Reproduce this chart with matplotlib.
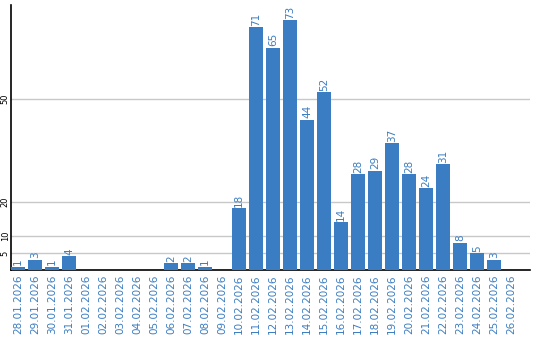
import matplotlib
matplotlib.use("Agg")
import matplotlib.pyplot as plt
import numpy as np

dates = ["28.01.2026", "29.01.2026", "30.01.2026", "31.01.2026", "01.02.2026",
         "02.02.2026", "03.02.2026", "04.02.2026", "05.02.2026", "06.02.2026",
         "07.02.2026", "08.02.2026", "09.02.2026", "10.02.2026", "11.02.2026",
         "12.02.2026", "13.02.2026", "14.02.2026", "15.02.2026", "16.02.2026",
         "17.02.2026", "18.02.2026", "19.02.2026", "20.02.2026", "21.02.2026",
         "22.02.2026", "23.02.2026", "24.02.2026", "25.02.2026", "26.02.2026"]
values = [1, 3, 1, 4, 0, 0, 0, 0, 0, 2, 2, 1, 0, 18, 71, 65, 73, 44, 52, 14,
          28, 29, 37, 28, 24, 31, 8, 5, 3, 0]
yticks = [5, 10, 20, 50]

blue = "#3b7dc2"
W, H = 540, 340
fig = plt.figure(figsize=(W / 100, H / 100), dpi=100)
ax = fig.add_axes([11 / W, 70 / H, 519 / W, 265 / H])

x = np.arange(len(dates))
ax.bar(x, values, width=0.82, color=blue, zorder=3)
for xi, v in zip(x, values):
    if v > 0:
        ax.text(xi, v + 0.4, str(v), rotation=90, ha="center", va="bottom",
                color=blue, fontsize=7.5, zorder=4)

ax.set_xlim(-0.41, 30.12)
ax.set_ylim(0, 77.5)
ax.set_yticks(yticks)
ax.set_yticklabels([str(t) for t in yticks], rotation=90, va="center",
                   fontsize=6)
ax.tick_params(axis="y", length=0, pad=1)
ax.grid(axis="y", color="#c8c8c8", linewidth=1, zorder=0)
ax.set_xticks(x)
ax.set_xticklabels(dates, rotation=90, fontsize=7.5, color=blue)
ax.tick_params(axis="x", length=0, pad=3)
for s in ["top", "right"]:
    ax.spines[s].set_visible(False)
ax.spines["left"].set_linewidth(1.2)
ax.spines["bottom"].set_linewidth(1.2)

fig.savefig("out.png", dpi=100)
